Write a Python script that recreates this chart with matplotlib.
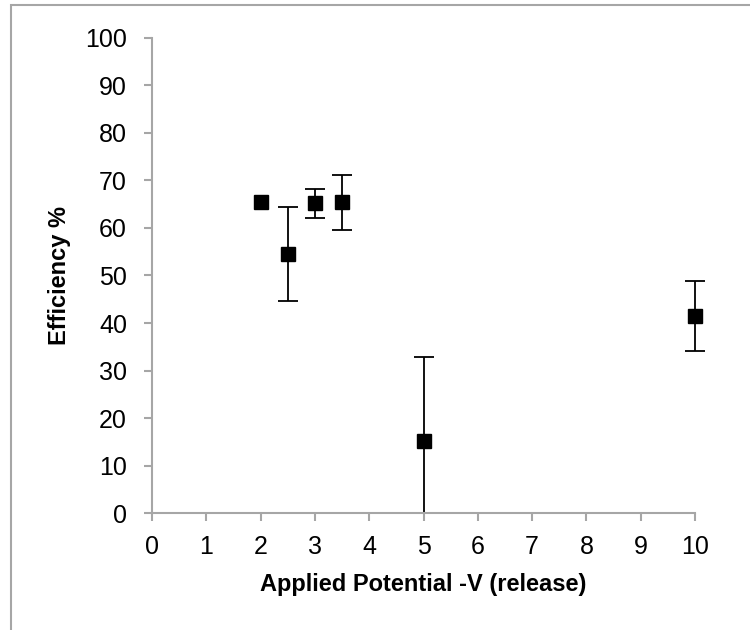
import matplotlib.pyplot as plt
import matplotlib as mpl
from matplotlib.patches import Rectangle

mpl.rcParams['font.family'] = ['Liberation Sans', 'DejaVu Sans']
mpl.rcParams['font.size'] = 18

# Data
potential = [2, 2.5, 3, 3.5, 5, 10]
efficiency = [65.5, 54.5, 65.2, 65.4, 15.2, 41.5]
err_low = [0, 9.9, 3.0, 5.8, 15.2, 7.4]
err_high = [0, 9.9, 3.0, 5.8, 17.7, 7.4]

x_ticks = list(range(0, 11))
y_ticks = list(range(0, 101, 10))

fig = plt.figure(figsize=(7.5, 6.3), dpi=100)
ax = fig.add_axes([0.2027, 0.1857, 0.724, 0.754])

# error bars only where there is a spread
idx = [i for i in range(len(potential)) if err_high[i] > 0]
ax.errorbar([potential[i] for i in idx], [efficiency[i] for i in idx],
            yerr=[[err_low[i] for i in idx], [err_high[i] for i in idx]],
            fmt='none', ecolor='black', elinewidth=1.3, capsize=7,
            capthick=1.3, clip_on=False)
ax.plot(potential, efficiency, 's', color='black', markersize=10,
        clip_on=False, zorder=5)

ax.set_xlim(0, 10)
ax.set_ylim(0, 100)
ax.set_xticks(x_ticks)
ax.set_yticks(y_ticks)

for side in ['top', 'right']:
    ax.spines[side].set_visible(False)
for side in ['left', 'bottom']:
    ax.spines[side].set_color('#a6a6a6')
    ax.spines[side].set_linewidth(1.5)
ax.tick_params(direction='out', length=6, width=1.5, color='#a6a6a6',
               labelsize=18)
ax.tick_params(axis='y', pad=12)
ax.tick_params(axis='x', pad=10)

ax.set_xlabel('Applied Potential -V (release)', fontweight='bold', fontsize=17,
              labelpad=10)
ax.set_ylabel('Efficiency %', fontweight='bold', fontsize=17, labelpad=10)

# grey frame round the chart area
fig.add_artist(Rectangle((11 / 750, -0.1), 1.2, 1 - 5 / 630 + 0.1,
                         transform=fig.transFigure, fill=False,
                         edgecolor='#a6a6a6', linewidth=1.5))

fig.savefig('out.png', dpi=100)
